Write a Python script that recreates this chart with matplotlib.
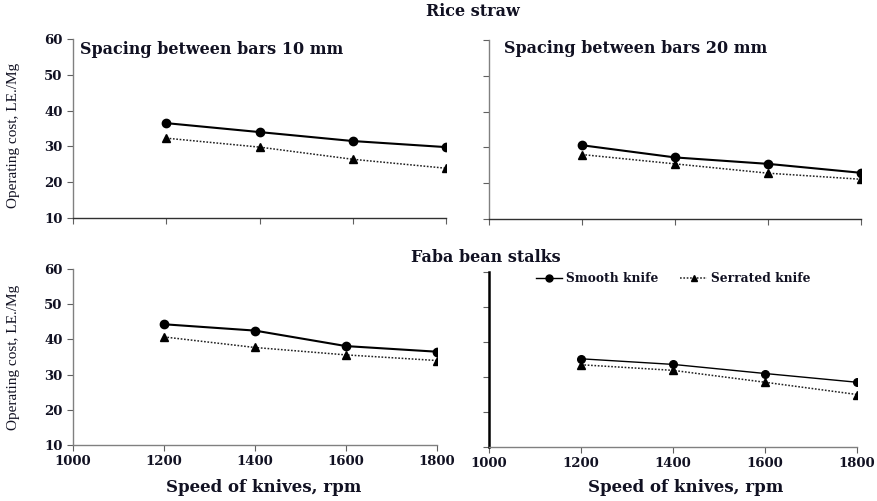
import matplotlib
matplotlib.use("Agg")
import matplotlib.pyplot as plt
import numpy as np

# knife speed, rpm
speed = [1200, 1400, 1600, 1800]

# operating cost, LE./Mg -- rice straw
rice_10_smooth = [36.5, 34.0, 31.5, 29.8]
rice_10_serrated = [32.3, 29.8, 26.4, 23.9]
rice_20_smooth = [30.6, 27.2, 25.4, 22.9]
rice_20_serrated = [28.0, 25.4, 22.8, 21.1]

# operating cost, LE./Mg -- faba bean stalks
faba_10_smooth = [44.3, 42.5, 38.1, 36.5]
faba_10_serrated = [40.7, 37.7, 35.6, 34.0]
faba_20_smooth = [35.2, 33.6, 31.0, 28.5]
faba_20_serrated = [33.5, 31.9, 28.5, 25.0]

x_ticks = [1000, 1200, 1400, 1600, 1800]
y_ticks = [10, 20, 30, 40, 50, 60]

W, H = 877, 501
TXT = "#111122"
BOLD = dict(family="DejaVu Serif", fontweight="bold", color=TXT)

fig = plt.figure(figsize=(W / 100, H / 100), dpi=100)


def box(left, top, right, bottom):
    return [left / W, 1 - bottom / H, (right - left) / W, (bottom - top) / H]


def panel(rect, smooth, serrated, ylabels=True, xlabels=False, lw=1.5,
          ms=6, left_spine="#808080", left_lw=1.0):
    ax = fig.add_axes(rect)
    ax.plot(speed, smooth, color="black", lw=lw, marker="o", ms=ms,
            label="Smooth knife", zorder=3)
    ax.plot(speed, serrated, color="#222222", lw=1.1, ls=(0, (1.1, 1.1)),
            marker="^", ms=ms, mec="black", mfc="black",
            label="Serrated knife", zorder=3)
    ax.set_xlim(1000, 1800)
    ax.set_ylim(10, 60)
    ax.set_xticks(x_ticks)
    ax.set_yticks(y_ticks)
    for s in ("top", "right"):
        ax.spines[s].set_visible(False)
    ax.spines["bottom"].set_color("#303030" if not xlabels else "#808080")
    ax.spines["bottom"].set_linewidth(1.0)
    ax.spines["left"].set_color(left_spine)
    ax.spines["left"].set_linewidth(left_lw)
    ax.tick_params(direction="out", length=4, width=0.8, color="#606060")
    ax.tick_params(axis="both", labelsize=9.5)
    if not ylabels:
        ax.set_yticklabels([])
    if not xlabels:
        ax.set_xticklabels([])
    for lab in ax.get_xticklabels() + ax.get_yticklabels():
        lab.set_fontfamily("DejaVu Serif")
        lab.set_fontweight("bold")
        lab.set_color(TXT)
    return ax


ax_tl = panel(box(73, 39, 446, 218), rice_10_smooth, rice_10_serrated)
ax_tr = panel(box(489, 40, 861, 219), rice_20_smooth, rice_20_serrated,
              ylabels=False)
ax_bl = panel(box(73, 269, 437, 445), faba_10_smooth, faba_10_serrated,
              xlabels=True)
ax_br = panel(box(489, 272, 857, 447), faba_20_smooth, faba_20_serrated,
              ylabels=False, xlabels=True, lw=1.0, ms=5.5,
              left_spine="black", left_lw=1.8)

ax_tl.text(0.02, 0.94, "Spacing between bars 10 mm", transform=ax_tl.transAxes,
           ha="left", va="center", fontsize=11.5, **BOLD)
ax_tr.text(0.04, 0.95, "Spacing between bars 20 mm", transform=ax_tr.transAxes,
           ha="left", va="center", fontsize=11.5, **BOLD)

fig.text(473 / W, 1 - 12 / H, "Rice straw", ha="center", va="center",
         fontsize=11.5, **BOLD)
fig.text(486 / W, 1 - 257 / H, "Faba bean stalks", ha="center", va="center",
         fontsize=11.5, **BOLD)

for xc in (264, 686):
    fig.text(xc / W, 1 - 488 / H, "Speed of knives, rpm", ha="center",
             va="center", fontsize=12, **BOLD)

for yc in (135, 357):
    fig.text(14 / W, 1 - yc / H, "Operating cost, LE./Mg", rotation=90,
             ha="center", va="center", fontsize=11,
             family="Liberation Serif", color=TXT)

leg = ax_br.legend(loc="upper center", bbox_to_anchor=(0.5, 1.06), ncol=2,
                   frameon=False, handlelength=2.2, columnspacing=1.8,
                   handletextpad=0.3,
                   prop=dict(family="DejaVu Serif", weight="bold", size=8.8))
for t in leg.get_texts():
    t.set_color(TXT)
for h in leg.legend_handles:
    h.set_markersize(5)

fig.savefig("out.png", dpi=100, facecolor="white")
